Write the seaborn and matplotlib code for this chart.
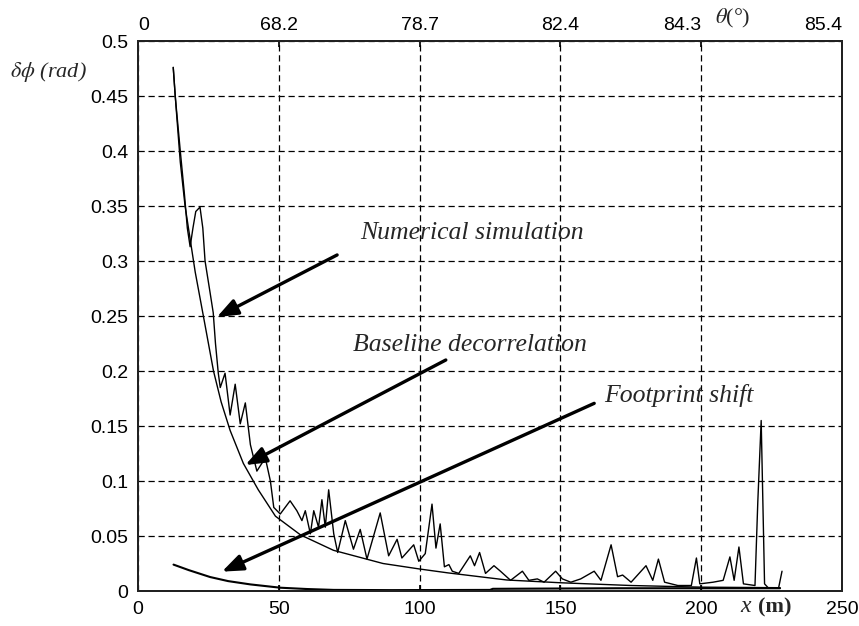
import numpy as np
import pandas as pd
import seaborn as sns
import matplotlib.pyplot as plt

# Numerical simulation
num_x = [12.5, 13.2, 15.0, 16.5, 17.5, 18.5, 19.5, 20.5, 22.0, 23.0, 23.8, 25.6, 26.7, 27.5, 28.5,
         29.2, 30.9, 32.7, 34.5, 36.3, 38.1, 39.9, 42.2, 45.2, 47.0, 48.2, 50.5, 54.0, 56.4, 58.2,
         59.4, 61.2, 62.4, 64.1, 65.3, 66.5, 67.7, 69.5, 70.9, 73.6, 76.5, 78.9, 81.3, 86.0, 89.0,
         92.0, 93.7, 97.9, 99.7, 102.0, 104.4, 105.8, 107.3, 108.8, 110.4, 111.6, 113.9, 118.0, 119.5,
         121.3, 123.4, 126.4, 128.7, 132.3, 136.5, 138.8, 141.8, 144.2, 148.3, 150.7, 153.7, 157.2,
         162.0, 164.4, 168.0, 170.3, 172.1, 175.1, 180.4, 182.8, 184.8, 187.0, 191.7, 196.5, 198.3,
         199.5, 204.2, 207.8, 210.2, 211.7, 213.4, 215.0, 219.1, 220.1, 221.3, 222.5, 223.9, 227.5, 228.7]
num_y = [0.476, 0.45, 0.40, 0.36, 0.33, 0.313, 0.33, 0.345, 0.349, 0.33, 0.30, 0.271, 0.253, 0.225, 0.198,
         0.185, 0.198, 0.160, 0.188, 0.152, 0.171, 0.133, 0.109, 0.121, 0.100, 0.076, 0.070, 0.082, 0.073, 0.064,
         0.073, 0.052, 0.073, 0.058, 0.083, 0.058, 0.092, 0.052, 0.035, 0.064, 0.038, 0.056, 0.029, 0.071, 0.032,
         0.047, 0.030, 0.042, 0.027, 0.034, 0.079, 0.039, 0.061, 0.022, 0.024, 0.018, 0.016, 0.032, 0.023,
         0.035, 0.016, 0.023, 0.018, 0.0097, 0.018, 0.0097, 0.011, 0.008, 0.018, 0.011, 0.008, 0.011,
         0.018, 0.0097, 0.042, 0.013, 0.0145, 0.008, 0.023, 0.0097, 0.029, 0.008, 0.005, 0.005, 0.030,
         0.0065, 0.008, 0.0097, 0.031, 0.0097, 0.040, 0.0065, 0.005, 0.081, 0.155, 0.0065, 0.0026, 0.003, 0.018]

# Baseline decorrelation (smooth curve)
base_x = [12.5, 13.5, 15.0, 16.7, 18.5, 20.3, 23.2, 26.8, 29.5, 32.7, 37.4, 42.7, 48.8, 57.7, 69.4,
          87.0, 100.0, 110.0, 131.0, 150.0, 175.0, 200.0, 228.0]
base_y = [0.476, 0.44, 0.39, 0.35, 0.32, 0.29, 0.25, 0.20, 0.172, 0.146, 0.116, 0.092, 0.068, 0.051, 0.037,
          0.025, 0.020, 0.0165, 0.010, 0.0075, 0.005, 0.0035, 0.003]

# Footprint shift
foot_x = [12.6, 18.0, 25.6, 32.0, 39.9, 50.5, 60.0, 69.5, 90.0, 125.0, 126.0, 170.0, 192.0, 228.0]
foot_y = [0.024, 0.019, 0.0127, 0.009, 0.006, 0.003, 0.0018, 0.001, 0.0008, 0.001, 0.002, 0.0025, 0.0025, 0.0025]

x_ticks = [0, 50, 100, 150, 200, 250]
y_ticks = [0, 0.05, 0.1, 0.15, 0.2, 0.25, 0.3, 0.35, 0.4, 0.45, 0.5]
y_labels = ['0', '0.05', '0.1', '0.15', '0.2', '0.25', '0.3', '0.35', '0.4', '0.45', '0.5']
theta_labels = ['0', '68.2', '78.7', '82.4', '84.3', '85.4']

sns.set_theme(style='white')
plt.rcParams['font.family'] = ['Liberation Sans', 'DejaVu Sans']
plt.rcParams['mathtext.fontset'] = 'stix'

fig = plt.figure(figsize=(8.59, 6.26), dpi=100)
ax = fig.add_axes([0.1607, 0.0559, 0.8195, 0.8786])

num = pd.DataFrame({'x': num_x, 'y': num_y})
base = pd.DataFrame({'x': base_x, 'y': base_y})
foot = pd.DataFrame({'x': foot_x, 'y': foot_y})

sns.lineplot(data=num, x='x', y='y', ax=ax, color='black', lw=1.0, sort=False, estimator=None)
sns.lineplot(data=base, x='x', y='y', ax=ax, color='black', lw=1.0, sort=False, estimator=None)
sns.lineplot(data=foot, x='x', y='y', ax=ax, color='black', lw=1.5, sort=False, estimator=None)

ax.set_xlim(0, 250)
ax.set_ylim(0, 0.5)
ax.set_xticks(x_ticks)
ax.set_xticklabels([str(t) for t in x_ticks])
ax.set_yticks(y_ticks)
ax.set_yticklabels(y_labels)
ax.set_xlabel('')
ax.set_ylabel('')
ax.grid(True, color='black', lw=0.9, linestyle=(0, (5, 3)))
ax.tick_params(labelsize=14, colors='black', direction='in', length=4, pad=7)
for s in ax.spines.values():
    s.set_color('black')
    s.set_linewidth(1.4)

# top axis with incidence angle
ax2 = ax.twiny()
ax2.set_xlim(0, 250)
ax2.set_xticks(x_ticks)
ax2.set_xticklabels(theta_labels)
ax2.tick_params(labelsize=14, colors='black', direction='in', length=4, pad=5)
lbls = ax2.get_xticklabels()
lbls[0].set_ha('left')
lbls[4].set_ha('right')
lbls[5].set_ha('right')
ax2.grid(False)

# axis labels placed like the original
fig.text(0.012, 0.885, r'$\delta\phi$ (rad)', fontsize=16, family='Liberation Serif', style='italic',
         va='center', ha='left')
fig.text(0.832, 0.971, r'$\theta$(°)', fontsize=16, family='Liberation Serif', va='center', ha='left')
fig.text(0.862, 0.014, 'x', fontsize=17, family='Liberation Serif', style='italic', va='bottom', ha='left')
fig.text(0.882, 0.014, '(m)', fontsize=16, family='Liberation Serif', weight='bold', va='bottom', ha='left')

# annotations
ann_font = dict(fontsize=18.5, family='Liberation Serif', style='italic', va='center', ha='left')
ax.text(79, 0.3255, 'Numerical simulation', **ann_font)
ax.text(76.5, 0.2236, 'Baseline decorrelation', **ann_font)
ax.text(165.5, 0.178, 'Footprint shift', **ann_font)

arrow = dict(arrowstyle='-|>,head_length=0.9,head_width=0.35', color='black', lw=2.4,
             mutation_scale=14, shrinkA=0, shrinkB=0)
ax.annotate('', xy=(28.0, 0.249), xytext=(70.7, 0.3055), arrowprops=arrow)
ax.annotate('', xy=(38.1, 0.1145), xytext=(109.3, 0.21), arrowprops=arrow)
ax.annotate('', xy=(29.8, 0.0176), xytext=(162.0, 0.1706), arrowprops=arrow)

fig.savefig('out.png', dpi=100)
